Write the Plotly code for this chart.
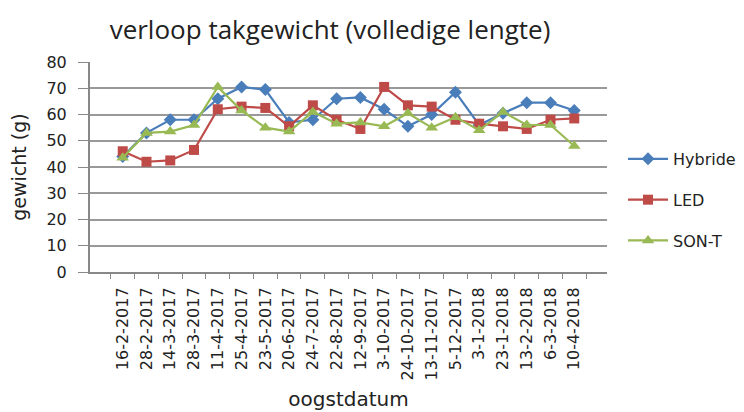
import plotly.graph_objects as go

dates = ["16-2-2017", "28-2-2017", "14-3-2017", "28-3-2017", "11-4-2017", "25-4-2017",
         "23-5-2017", "20-6-2017", "24-7-2017", "22-8-2017", "12-9-2017", "3-10-2017",
         "24-10-2017", "13-11-2017", "5-12-2017", "3-1-2018", "23-1-2018", "13-2-2018",
         "6-3-2018", "10-4-2018"]
hybride = [44, 53, 58, 58, 66, 70.5, 69.5, 57, 58, 66, 66.5, 62, 55.5, 60, 68.5, 56, 60.5, 64.5, 64.5, 61.5]
led = [46, 42, 42.5, 46.5, 62, 63, 62.5, 55.5, 63.5, 58, 54.5, 70.5, 63.5, 63, 58, 56.5, 55.5, 54.5, 58, 58.5]
sont = [43.5, 53, 53.5, 56, 70.5, 61.5, 55, 53.5, 61, 56.5, 57, 55.5, 60.5, 55, 59, 54, 61, 56, 56, 48]

series = [("Hybride", hybride, "#4a7ebb", "diamond"),
          ("LED", led, "#be4b48", "square"),
          ("SON-T", sont, "#98b954", "triangle-up")]

fig = go.Figure()
for i, (name, vals, col, sym) in enumerate(series):
    fig.add_trace(go.Scatter(
        x=dates, y=vals, name=name, mode="lines+markers",
        line=dict(color=col, width=2.2),
        marker=dict(symbol=sym, size=10 if sym != "triangle-up" else 11, color=col),
        legendgroup=name,
    ))

fig.update_layout(
    width=736, height=404,
    margin=dict(l=82, r=137, t=54, b=140, autoexpand=False),
    paper_bgcolor="white", plot_bgcolor="white",
    title=dict(text="verloop takgewicht (volledige lengte)", x=0.4375, xanchor="center",
               y=0.9455, yanchor="middle",
               font=dict(family="Open Sans", size=26, color="#222")),
    font=dict(family="DejaVu Sans", color="#222"),
    legend=dict(x=1.031, y=0.343, xanchor="left", yanchor="middle",
                font=dict(family="DejaVu Sans", size=16, color="#222"),
                tracegroupgap=17, itemwidth=40, bgcolor="rgba(0,0,0,0)"),
    showlegend=True,
)
fig.update_xaxes(
    type="category", tickangle=-90, tickfont=dict(size=16, family="DejaVu Sans", color="#222"),
    showline=True, linecolor="#888", linewidth=2, automargin=False,
    ticks="outside", tickson="boundaries", ticklen=5, tickcolor="#888", ticklabelstandoff=7,
    showgrid=False,
    title=dict(text="oogstdatum", font=dict(family="DejaVu Sans", size=20, color="#222"), standoff=13),
)
fig.update_yaxes(
    range=[0, 80], dtick=10, tickfont=dict(size=16, family="DejaVu Sans", color="#222"),
    showgrid=True, gridcolor="#999", gridwidth=2, automargin=False,
    showline=True, linecolor="#888", linewidth=2, mirror=False,
    ticks="outside", ticklen=10, tickcolor="#888", zeroline=False, ticklabelstandoff=8,
    title=dict(text="gewicht (g)", font=dict(family="DejaVu Sans", size=19, color="#222"), standoff=27),
)
fig.write_html("out.html")
